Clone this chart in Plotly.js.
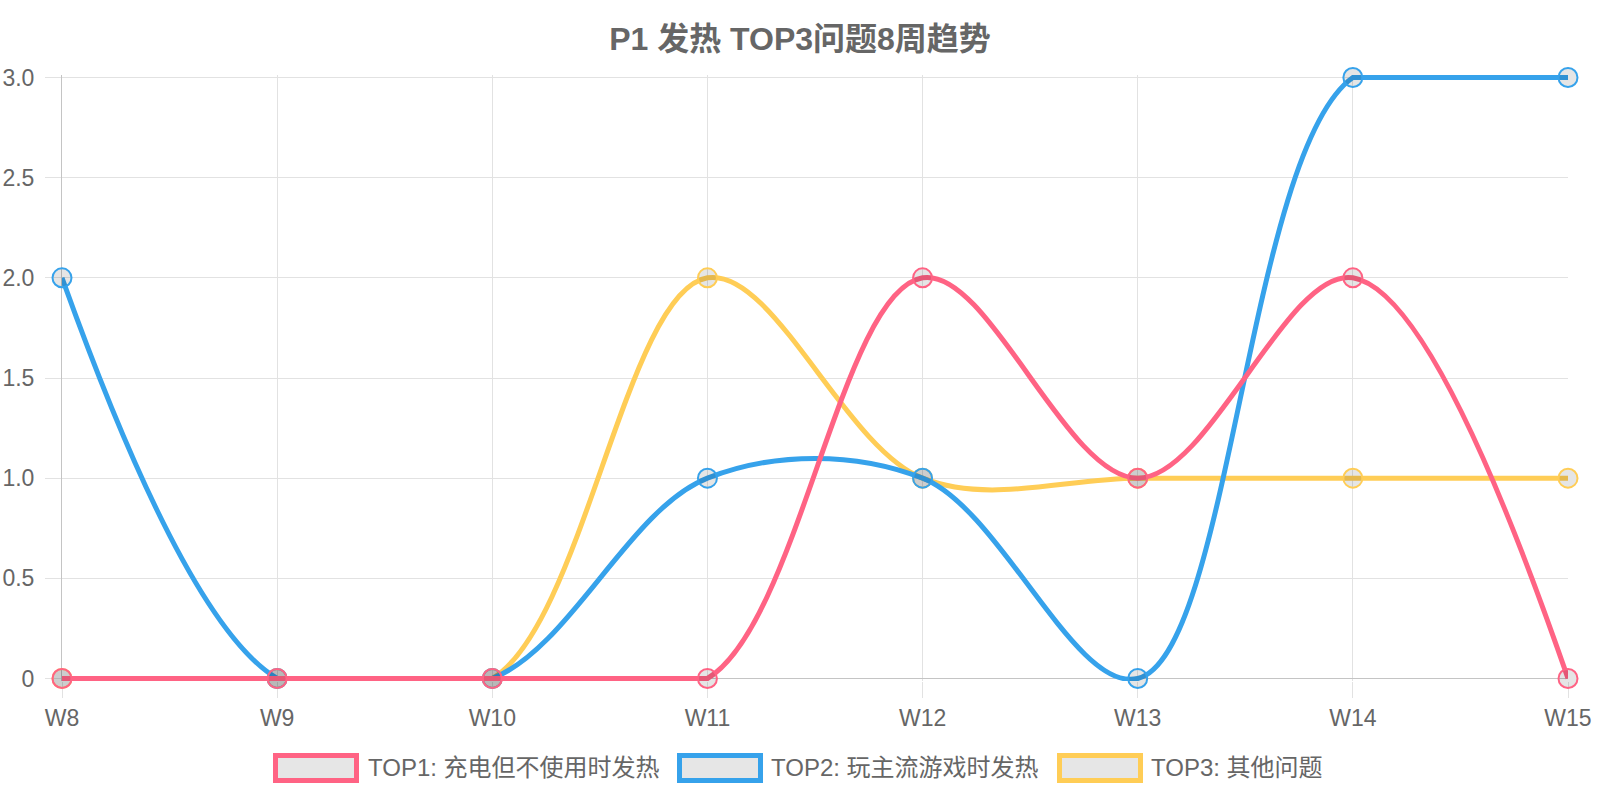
<!DOCTYPE html>
<html>
<head>
<meta charset="utf-8">
<script src="https://cdn.plot.ly/plotly-3.0.1.min.js"></script>
<style>
  html, body { margin: 0; padding: 0; background: #fff; }
  #chart { width: 1600px; height: 800px; }
</style>
</head>
<body>
<div id="chart"></div>
<script>
// data
const weeks = ["W8", "W9", "W10", "W11", "W12", "W13", "W14", "W15"];
const top1 = [0, 0, 0, 0, 2, 1, 2, 0];
const top2 = [2, 0, 0, 1, 1, 0, 3, 3];
const top3 = [0, 0, 0, 2, 1, 1, 1, 1];
const seriesNames = ["TOP1: 充电但不使用时发热", "TOP2: 玩主流游戏时发热", "TOP3: 其他问题"];
const seriesColors = ["#FF6384", "#36A2EB", "#FFCD56"];
const yTickVals = [0, 0.5, 1, 1.5, 2, 2.5, 3];
const yTickText = ["0", "0.5", "1.0", "1.5", "2.0", "2.5", "3.0"];

const yMin = 0, yMax = 3;
const font = "Liberation Sans, Arial, Noto Sans CJK SC, sans-serif";
const textColor = "#666";
const lineW = 5;

// plot box in pixels
const M = { l: 62, r: 32, t: 75, b: 119 };
const plotW = 1600 - M.l - M.r;
const plotH = 800 - M.t - M.b;
const pad = 2.5 / ((plotH - 5) / (yMax - yMin)); // keep lines at 0 / 3 unclipped

// pixel -> paper helpers, used for the hand drawn legend
const PX = x => (x - M.l) / plotW;
const PY = y => (800 - M.b - y) / plotH;

// flat stretches lying on the axis bounds are drawn straight,
// like the original chart which caps its curves to the chart area
function flatRuns(vals) {
  const xs = [], ys = [];
  for (let i = 0; i < vals.length - 1; i++) {
    const v = vals[i];
    if (v === vals[i + 1] && (v === yMin || v === yMax)) {
      xs.push(weeks[i], weeks[i + 1], null);
      ys.push(v, v, null);
    }
  }
  return { xs, ys };
}

const values = [top1, top2, top3];
let traces = [];
// last series first so TOP1 ends up on top
for (let s = values.length - 1; s >= 0; s--) {
  const runs = flatRuns(values[s]);
  traces.push({
    x: runs.xs,
    y: runs.ys,
    type: "scatter",
    mode: "lines",
    line: { color: seriesColors[s], width: lineW },
    connectgaps: false,
    showlegend: false,
    hoverinfo: "skip"
  });
  traces.push({
    x: weeks,
    y: values[s],
    name: seriesNames[s],
    type: "scatter",
    mode: "lines+markers",
    line: { color: seriesColors[s], width: lineW, shape: "spline", smoothing: 1.0 },
    marker: { size: 19, color: "rgba(0,0,0,0.1)", line: { color: seriesColors[s], width: 2 } },
    cliponaxis: false,
    showlegend: false
  });
}

// legend boxes + labels
const legendBoxX = [273, 677, 1057];
const legendTextX = [366, 769, 1149];
const legendY = 768;
let shapes = [];
let annotations = [];
for (let s = 0; s < seriesNames.length; s++) {
  shapes.push({
    type: "rect", xref: "paper", yref: "paper",
    x0: PX(legendBoxX[s] + 2.5), x1: PX(legendBoxX[s] + 86 - 2.5),
    y0: PY(legendY - 12.5), y1: PY(legendY + 12.5),
    fillcolor: "#e6e6e6",
    line: { color: seriesColors[s], width: 5 }
  });
  annotations.push({
    xref: "paper", yref: "paper",
    x: PX(legendTextX[s]), y: PY(legendY),
    xanchor: "left", yanchor: "middle",
    text: seriesNames[s], showarrow: false,
    font: { family: font, size: 24, color: textColor }
  });
}

let layout = {
  width: 1600,
  height: 800,
  margin: M,
  paper_bgcolor: "#fff",
  plot_bgcolor: "#fff",
  showlegend: false,
  hovermode: false,
  font: { family: font, color: textColor },
  title: {
    text: "P1 发热 TOP3问题8周趋势",
    x: 0.5, xref: "container",
    y: 1 - 39 / 800, yref: "container", yanchor: "middle",
    font: { family: font, size: 32, color: textColor, weight: "bold" }
  },
  xaxis: {
    type: "category",
    range: [0, weeks.length - 1],
    showgrid: true,
    gridcolor: "#e2e2e2",
    zeroline: false,
    showline: false,
    ticks: "outside",
    ticklen: 16,
    tickcolor: "#e2e2e2",
    tickfont: { family: font, size: 23, color: textColor },
    layer: "below traces",
    fixedrange: true
  },
  yaxis: {
    range: [yMin - pad, yMax + pad],
    tickvals: yTickVals,
    ticktext: yTickText,
    showgrid: true,
    gridcolor: "#e2e2e2",
    zeroline: true,
    zerolinecolor: "#c4c4c4",
    zerolinewidth: 1,
    showline: true,
    linecolor: "#c4c4c4",
    ticks: "outside",
    ticklen: 16,
    tickcolor: "#e2e2e2",
    ticklabelstandoff: 6,
    tickfont: { family: font, size: 23, color: textColor },
    layer: "below traces",
    fixedrange: true
  },
  shapes: shapes,
  annotations: annotations
};

Plotly.newPlot("chart", traces, layout, { displayModeBar: false, staticPlot: true });
</script>
</body>
</html>
